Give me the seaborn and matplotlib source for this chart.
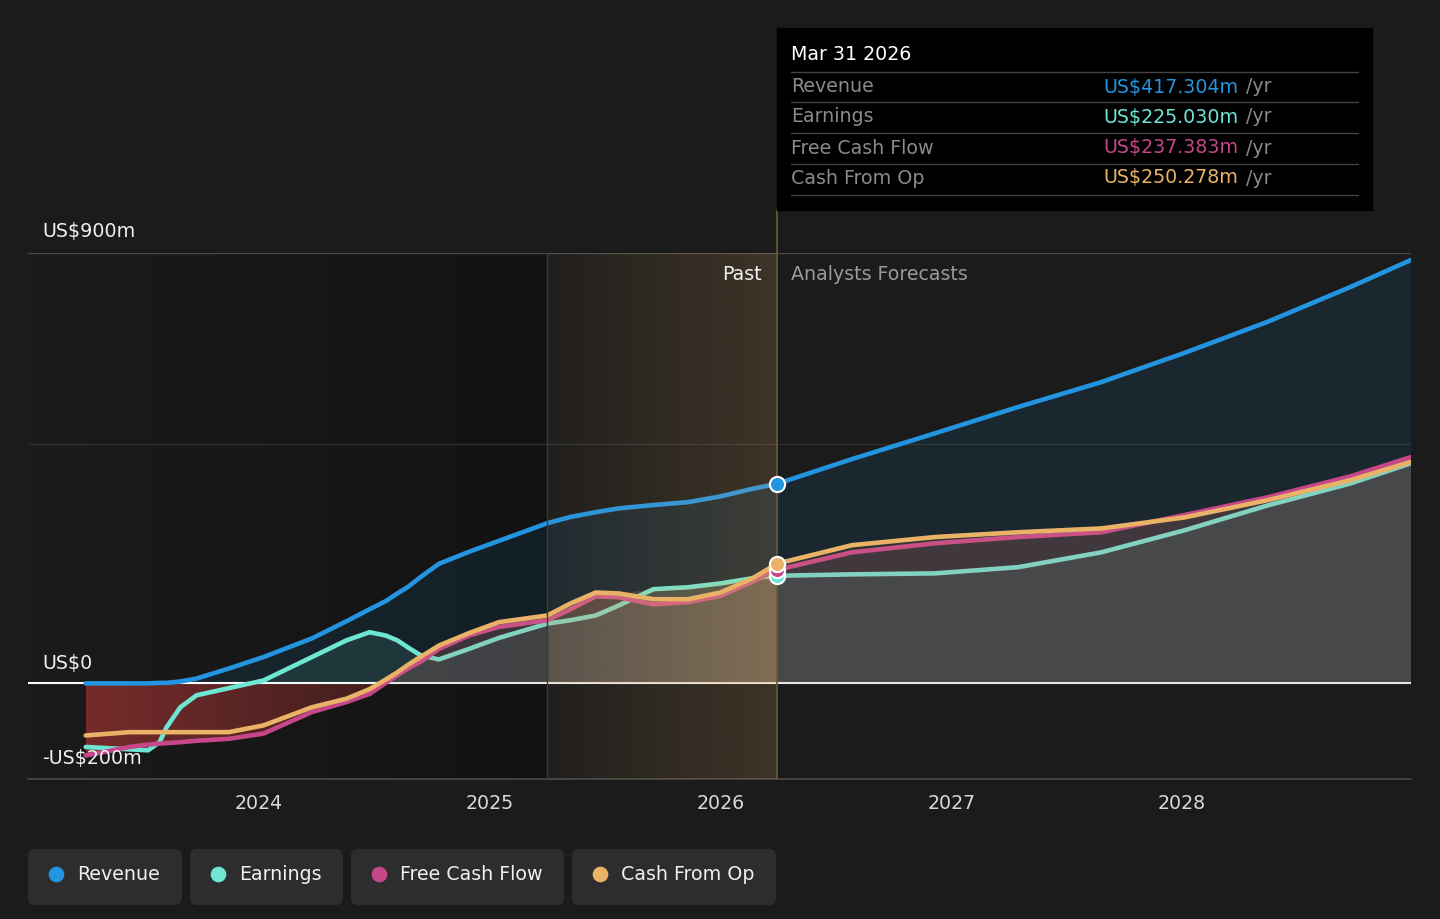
import numpy as np
import pandas as pd
import seaborn as sns
import matplotlib
matplotlib.use("Agg")
import matplotlib.pyplot as plt
from matplotlib.patches import Rectangle, FancyBboxPatch
from matplotlib.path import Path
from matplotlib.colors import to_rgb

# values (US$ m), x in decimal years
years = [2023.25, 2023.44, 2023.52, 2023.57, 2023.60, 2023.66, 2023.73, 2023.87,
         2024.02, 2024.23, 2024.38, 2024.48, 2024.55, 2024.60, 2024.65, 2024.70,
         2024.78, 2024.91, 2025.04, 2025.25, 2025.35, 2025.46, 2025.56, 2025.71,
         2025.86, 2026.00, 2026.14, 2026.245, 2026.57, 2026.93, 2027.29, 2027.65,
         2028.01, 2028.37, 2028.73, 2028.99]
revenue = [0, 0, 0, 1, 1, 4, 10, 31,
           55, 94, 130, 155, 172, 188, 203, 222,
           250, 275, 298, 335, 348, 358, 366, 373,
           379, 391, 407, 417.3, 469, 523, 578, 630,
           691, 756, 829, 885]
earnings = [-133, -138, -140, -123, -92, -50, -25, -10,
            6, 55, 90, 107, 100, 90, 74, 59,
            50, 72, 95, 125, 132, 142, 163, 197,
            201, 209, 220, 225.0, 228, 230, 243, 274,
            320, 372, 418, 460]
free_cash_flow = [-151, -133, -128, -126, -125, -123, -120, -116,
                  -105, -60, -39, -22, 1, 17, 32, 45,
                  72, 100, 118, 132, 155, 182, 180, 165,
                  170, 183, 213, 237.4, 274, 293, 306, 316,
                  352, 389, 433, 473]
cash_from_op = [-109, -102, -102, -102, -102, -102, -102, -102,
                -88, -50, -32, -12, 8, 23, 40, 55,
                79, 105, 128, 142, 167, 190, 188, 176,
                176, 190, 220, 250.3, 289, 306, 316, 324,
                347, 383, 425, 463]

series_names = ["Revenue", "Earnings", "Free Cash Flow", "Cash From Op"]
colors = ["#2394df", "#6ee6d3", "#c6468a", "#e9b266"]
tooltip_date = "Mar 31 2026"
tooltip_values = ["US$417.304m", "US$225.030m", "US$237.383m", "US$250.278m"]
year_ticks = [2024, 2025, 2026, 2027, 2028]
y_labels = {900: "US$900m", 0: "US$0", -200: "-US$200m"}
past_start, past_end = 2025.25, 2026.245

df = pd.DataFrame({"year": years, "Revenue": revenue, "Earnings": earnings,
                   "Free Cash Flow": free_cash_flow, "Cash From Op": cash_from_op})
long_df = df.melt(id_vars="year", var_name="series", value_name="value")

BG = "#1b1b1b"
sns.set_theme(style="dark", rc={"axes.facecolor": BG, "figure.facecolor": BG})
plt.rcParams["font.family"] = ["DejaVu Sans"]

W, H = 1440, 919
fig = plt.figure(figsize=(W / 100, H / 100), dpi=100, facecolor=BG)
ax = fig.add_axes([28 / W, 1 - 779 / H, (1411 - 28) / W, (779 - 253) / H])
ax.set_facecolor(BG)

t = df["year"].to_numpy()
others = df[["Earnings", "Free Cash Flow", "Cash From Op"]].to_numpy()


def gradient(color, a0, a1):
    img = np.zeros((1, 256, 4))
    img[..., :3] = to_rgb(color)
    img[..., 3] = np.linspace(a0, a1, 256)
    return img


# darker band on the older history
ax.imshow(gradient("black", 0, 0.32), extent=[2023.0, past_start, -200, 900],
          aspect="auto", zorder=0.5, interpolation="bilinear")

ax.axhline(900, color="#4a4a4a", lw=1, zorder=1)
ax.axhline(500, color="#2f2f2f", lw=1, zorder=1)
ax.axhline(-200, color="#4a4a4a", lw=1.2, zorder=1, clip_on=False)

# negative area in red
neg = others.min(axis=1)
neg_poly = ax.fill_between(t, neg, 0, where=neg < 0, interpolate=True,
                           color="none", lw=0)
im = ax.imshow(gradient("#d43c3c", 0.5, 0.22), extent=[t[0], 2024.6, -200, 0],
               aspect="auto", zorder=2.2, interpolation="bilinear")
im.set_clip_path(Path.make_compound_path(*neg_poly.get_paths()),
                 transform=ax.transData)

ax.axhline(0, color="white", lw=1.5, zorder=3.5)

z = 2
for name, col in zip(series_names, colors):
    vals = df[name].to_numpy()
    ax.fill_between(t, 0, np.clip(vals, 0, None), color=col, alpha=0.105,
                    lw=0, zorder=z if name == "Revenue" else z + 1.8)
    sns.lineplot(data=long_df[long_df["series"] == name], x="year", y="value",
                 color=col, lw=3.3, ax=ax, zorder=z + 2, legend=False,
                 solid_capstyle="round")
    z += 2

# highlight of the last year of history
ax.imshow(gradient("#e9b266", 0.03, 0.17), extent=[past_start, past_end, -200, 900],
          aspect="auto", zorder=10, interpolation="bilinear")
top = np.clip(others.max(axis=1), 0, None)
pos_poly = ax.fill_between(t, 0, top, color="none", lw=0)
warm = ax.imshow(gradient("#e9b266", 0.1, 0.22), extent=[past_start, past_end, 0, 300],
                 aspect="auto", zorder=10.5, interpolation="bilinear")
warm.set_clip_path(pos_poly.get_paths()[0], transform=ax.transData)

ax.axvline(past_start, color="#3f3a32", lw=1, zorder=11)
ax.axvline(past_end, color="#6b5a3c", lw=1.2, ymax=1 + 43 / 526, zorder=11,
           clip_on=False)

i_now = years.index(past_end)
for name, col in zip(series_names, colors):
    ax.scatter([past_end], [df[name].iloc[i_now]], s=120, color=col,
               edgecolor="white", linewidth=1.5, zorder=12, clip_on=False)

ax.set_xlim(2023.0, 2028.992)
ax.set_ylim(-200, 900)
ax.set_xlabel("")
ax.set_ylabel("")
ax.set_xticks(year_ticks)
ax.set_xticklabels([str(y) for y in year_ticks])
ax.set_yticks([])
ax.tick_params(axis="x", length=0, pad=11, labelsize=13.7, colors="#d9d9d9")
for s in ax.spines.values():
    s.set_visible(False)

for val, lab in y_labels.items():
    ypos = {900: 944, 0: 42, -200: -157}[val]
    ax.text(2023.061, ypos, lab, color="#f0f0f0", fontsize=13.7, va="center",
            ha="left", zorder=13, clip_on=False)

ax.text(past_end - 0.065, 856, "Past", color="#f0f0f0", fontsize=13.7,
        va="center", ha="right", zorder=13)
ax.text(past_end + 0.061, 856, "Analysts Forecasts", color="#9a9a9a",
        fontsize=13.7, va="center", ha="left", zorder=13)

# overlay in pixel coordinates for tooltip and legend
ov = fig.add_axes([0, 0, 1, 1], zorder=5)
ov.set_xlim(0, W)
ov.set_ylim(H, 0)
ov.axis("off")
ov.patch.set_alpha(0)

ov.add_patch(Rectangle((777, 28), 1372 - 777, 210 - 28, color="black"))
ov.text(791, 55, tooltip_date, color="white", fontsize=13.7, va="center")
for y in [72, 102, 133, 164, 195]:
    ov.plot([791, 1358], [y, y], color="#444444", lw=1)
for i, (name, col, v) in enumerate(zip(series_names, colors, tooltip_values)):
    yc = [87, 117, 148, 178][i]
    ov.text(791, yc, name, color="#8a8a8a", fontsize=13.7, va="center")
    ov.text(1103, yc, v, color=col, fontsize=13.7, va="center")
    ov.text(1246, yc, "/yr", color="#8a8a8a", fontsize=13.7, va="center")

boxes = [(28, 182), (190, 343), (351, 564), (572, 776)]
for (x0, x1), name, col in zip(boxes, series_names, colors):
    ov.add_patch(FancyBboxPatch((x0, 849), x1 - x0, 56,
                                boxstyle="round,pad=0,rounding_size=7",
                                fc="#2d2d2d", ec="none"))
    ov.scatter([x0 + 28], [874], s=105, color=col, zorder=3)
    ov.text(x0 + 49, 874, name, color="#f0f0f0", fontsize=13.7, va="center")

fig.savefig("out.png", dpi=100, facecolor=BG)
